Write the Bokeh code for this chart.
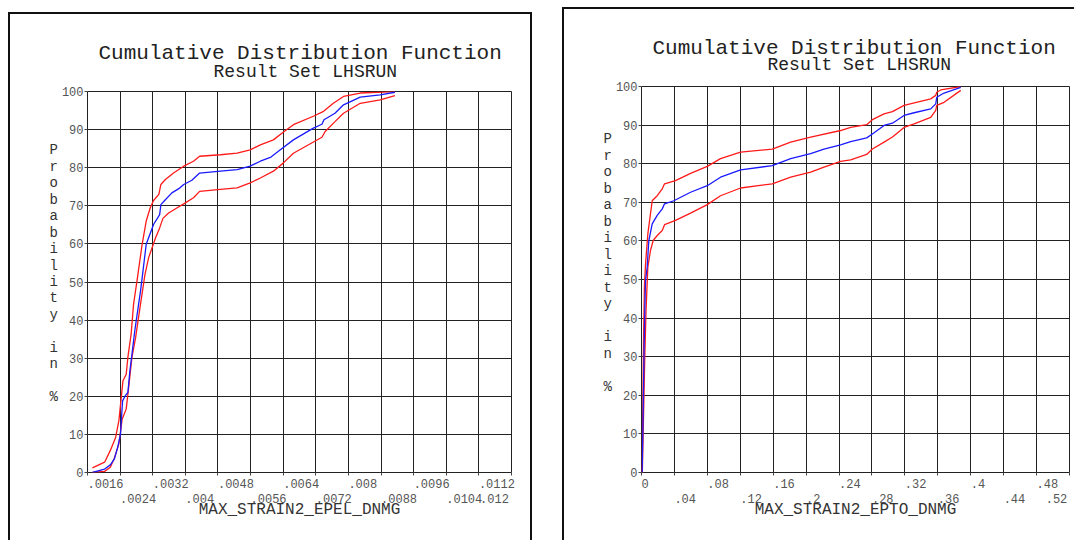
from bokeh.plotting import figure
from bokeh.layouts import row
from bokeh.models import FixedTicker, LinearAxis, Range1d, Title, AllLabels
from bokeh.embed import file_html
from bokeh.resources import INLINE

# ---------------- data ----------------
left_tick_values = [0.0016, 0.0024, 0.0032, 0.0040, 0.0048, 0.0056, 0.0064,
                    0.0072, 0.0080, 0.0088, 0.0096, 0.0104, 0.0112, 0.0120]
left_tick_labels = [".0016", ".0024", ".0032", ".004", ".0048", ".0056", ".0064",
                    ".0072", ".008", ".0088", ".0096", ".0104", ".0112", ".012"]
right_tick_values = [0.0, 0.04, 0.08, 0.12, 0.16, 0.20, 0.24,
                     0.28, 0.32, 0.36, 0.40, 0.44, 0.48, 0.52]
right_tick_labels = ["0", ".04", ".08", ".12", ".16", ".2", ".24",
                     ".28", ".32", ".36", ".4", ".44", ".48", ".52"]
y_tick_values = [0, 10, 20, 30, 40, 50, 60, 70, 80, 90, 100]

# Left chart: MAX_STRAIN2_EPEL_DNMG
left_blue_x = [0.00172, 0.00202, 0.00216, 0.00226, 0.00234, 0.00241, 0.00246, 0.00253, 0.00259,
               0.00264, 0.00269, 0.00276, 0.00283, 0.00290, 0.00294, 0.00304, 0.00322, 0.00337,
               0.00340, 0.00351, 0.00367, 0.00384, 0.00396, 0.00416, 0.00435, 0.00486, 0.00527,
               0.00559, 0.00584, 0.00610, 0.00633, 0.00665, 0.00714, 0.00735, 0.00740, 0.00767,
               0.00788, 0.00829, 0.00878, 0.00914]
left_blue_p = [0, 0.9, 2, 3.6, 6.6, 10.1, 18.8, 20.2, 21,
               26.7, 31, 37.2, 42.4, 47.6, 51, 59.9, 65.1, 67.7,
               70.3, 71.6, 73.4, 74.5, 75.6, 76.7, 78.6, 79.1, 79.5,
               80.4, 81.7, 82.8, 84.7, 87.3, 90.4, 91.4, 92.6, 94.3,
               96.5, 98.5, 99.1, 99.8]
left_upper_x = [0.00172, 0.00202, 0.00216, 0.00229, 0.00237, 0.00247, 0.00255, 0.00259, 0.00267,
                0.00273, 0.00283, 0.00294, 0.00304, 0.00314, 0.00322, 0.00335, 0.00340, 0.00351,
                0.00371, 0.00396, 0.00420, 0.00435, 0.00486, 0.00527, 0.00559, 0.00584, 0.00616,
                0.00640, 0.00665, 0.00714, 0.00739, 0.00763, 0.00788, 0.00829, 0.00914]
left_upper_p = [1.2, 2.7, 5.8, 9.2, 13.6, 24.1, 25.8, 30.2, 36.3,
                44.2, 51.5, 59.9, 66, 69.5, 71.4, 73, 75.6, 76.9,
                78.6, 80.4, 81.7, 83, 83.4, 83.8, 84.7, 86, 87.3,
                89.3, 91.3, 93.5, 94.8, 96.9, 98.7, 99.6, 100]
left_lower_x = [0.00172, 0.00202, 0.00216, 0.00226, 0.00237, 0.00245, 0.00255, 0.00261, 0.00269,
                0.00278, 0.00290, 0.00301, 0.00310, 0.00327, 0.00337, 0.00345, 0.00359, 0.00380,
                0.00396, 0.00420, 0.00435, 0.00486, 0.00527, 0.00559, 0.00584, 0.00616, 0.00640,
                0.00665, 0.00735, 0.00743, 0.00767, 0.00788, 0.00829, 0.00878, 0.00914]
left_lower_p = [0, 0.3, 1.4, 3.8, 7.5, 14, 16.7, 22.3, 30.2,
                35.4, 44.2, 52, 56.4, 61.6, 64.2, 66.7, 68.1, 69.5,
                70.5, 72.1, 73.8, 74.3, 74.7, 76, 77.3, 79.1, 81.2,
                83.8, 88, 89.5, 92.1, 94.3, 96.9, 97.8, 98.9]

# Right chart: MAX_STRAIN2_EPTO_DNMG
right_blue_x = [0.0008, 0.0020, 0.0030, 0.0040, 0.0049, 0.0069, 0.0089, 0.0130, 0.0191, 0.0252,
                0.0280, 0.0393, 0.0596, 0.0799, 0.0960, 0.1204, 0.1589, 0.1812, 0.2055, 0.2217,
                0.2419, 0.2541, 0.2736, 0.2805, 0.2947, 0.3049, 0.3190, 0.3312, 0.3514, 0.3575,
                0.3587, 0.3676, 0.3879]
right_blue_p = [0, 15, 30, 42, 49.7, 53.2, 60.1, 64.4, 66.6, 68.3,
                69.6, 70.4, 72.6, 74.3, 76.5, 78.4, 79.5, 81.3, 82.6, 83.8,
                84.9, 85.7, 86.7, 87.7, 89.9, 90.5, 92.5, 93.2, 94.2, 95.5,
                97.2, 98.3, 99.8]
right_upper_x = [0.0006, 0.0015, 0.0025, 0.0035, 0.0049, 0.0077, 0.0130, 0.0191, 0.0252, 0.0280,
                 0.0413, 0.0596, 0.0799, 0.0960, 0.1204, 0.1589, 0.1812, 0.2055, 0.2419, 0.2541,
                 0.2736, 0.2805, 0.2947, 0.3049, 0.3190, 0.3514, 0.3575, 0.3587, 0.3636, 0.3879]
right_upper_p = [0, 15, 35, 48, 54, 61.8, 70.4, 71.7, 73.5, 74.8,
                 75.6, 77.5, 79.3, 81.3, 83, 83.8, 85.6, 86.9, 88.6, 89.4,
                 90.1, 91.4, 92.9, 93.5, 95.1, 96.8, 97.7, 98.5, 99.1, 100]
right_lower_x = [0.0010, 0.0025, 0.0040, 0.0055, 0.0077, 0.0109, 0.0142, 0.0191, 0.0252, 0.0280,
                 0.0413, 0.0596, 0.0799, 0.0960, 0.1204, 0.1589, 0.1812, 0.2055, 0.2217, 0.2419,
                 0.2541, 0.2736, 0.2805, 0.2947, 0.3049, 0.3190, 0.3312, 0.3514, 0.3575, 0.3587,
                 0.3676, 0.3879]
right_lower_p = [0, 15, 30, 42, 53.2, 57.5, 60.1, 61.4, 62.7, 64.2,
                 65.3, 67.2, 69.4, 71.7, 73.7, 74.8, 76.5, 77.8, 79.1, 80.6,
                 81, 82.4, 83.8, 85.6, 86.9, 89.4, 90.3, 92, 93.8, 95.1,
                 95.9, 99]

TITLE = "Cumulative Distribution Function"
SUBTITLE = "Result Set LHSRUN"
YTEXT = "\n".join(list("Probability in %"))

FONT = "Liberation Mono"
NB = "\u00a0"


def make_panel(width, height, mbl, mbr, mbt, mbb, ticks, tick_labels, xlabel,
               curves, styles, margin, sub_offset, title_offset,
               sub_standoff, title_standoff, last_pad, ytext_tail):
    p = figure(width=width, height=height, output_backend="svg", toolbar_location=None,
               x_range=Range1d(ticks[0], ticks[-1]), y_range=Range1d(0, 100),
               min_border_left=mbl, min_border_right=mbr,
               min_border_top=mbt, min_border_bottom=mbb, title=None,
               styles=styles, margin=margin)
    p.background_fill_color = "white"
    p.border_fill_color = "white"
    p.outline_line_color = "#222222"
    p.outline_line_width = 1

    # grid
    p.xgrid.ticker = FixedTicker(ticks=ticks)
    p.ygrid.ticker = FixedTicker(ticks=y_tick_values)
    for g in (p.xgrid, p.ygrid):
        g.grid_line_color = "#222222"
        g.grid_line_alpha = 1.0
        g.grid_line_width = 1

    # x axis, first row of labels (even ticks), labels start at their tick
    xa = p.xaxis[0]
    xa.ticker = FixedTicker(ticks=ticks)
    xa.major_label_overrides = {
        t: (NB * len(lab) + lab if i % 2 == 0 else "")
        for i, (t, lab) in enumerate(zip(ticks, tick_labels))}
    xa.major_label_policy = AllLabels()
    xa.major_label_text_font = FONT
    xa.major_label_text_font_size = "12px"
    xa.major_label_text_color = "#555555"
    xa.major_label_standoff = 2
    xa.major_tick_out = 3
    xa.major_tick_in = 0
    xa.minor_tick_line_color = None
    xa.axis_line_color = None
    xa.major_tick_line_color = "#444444"

    # second row of labels (odd ticks); the last one ends at its tick
    odd = [i for i in range(len(ticks)) if i % 2 == 1]
    xb = LinearAxis(ticker=FixedTicker(ticks=[ticks[i] for i in odd]))
    over = {}
    for i in odd:
        lab = tick_labels[i]
        over[ticks[i]] = (lab + NB * last_pad) if i == len(ticks) - 1 else (NB * len(lab) + lab)
    xb.major_label_overrides = over
    xb.major_label_policy = AllLabels()
    xb.major_label_text_font = FONT
    xb.major_label_text_font_size = "12px"
    xb.major_label_text_color = "#555555"
    xb.major_label_standoff = -2
    xb.major_tick_out = 0
    xb.major_tick_in = 0
    xb.major_tick_line_color = None
    xb.minor_tick_line_color = None
    xb.axis_line_color = None
    xb.axis_label = xlabel
    xb.axis_label_text_font = FONT
    xb.axis_label_text_font_size = "16px"
    xb.axis_label_text_font_style = "normal"
    xb.axis_label_text_color = "#333333"
    xb.axis_label_standoff = -9
    p.add_layout(xb, "below")

    # y axis
    ya = p.yaxis[0]
    ya.ticker = FixedTicker(ticks=y_tick_values)
    ya.major_label_text_font = FONT
    ya.major_label_text_font_size = "12px"
    ya.major_label_text_color = "#555555"
    ya.major_label_standoff = 1
    ya.major_tick_out = 3
    ya.major_tick_in = 0
    ya.minor_tick_line_color = None
    ya.axis_line_color = None
    ya.major_tick_line_color = "#444444"
    ya.axis_label = YTEXT + "\n" * ytext_tail
    ya.axis_label_orientation = "horizontal"
    ya.axis_label_text_font = FONT
    ya.axis_label_text_font_size = "14px"
    ya.axis_label_text_font_style = "normal"
    ya.axis_label_text_line_height = 1.03
    ya.axis_label_text_color = "#333333"
    ya.axis_label_standoff = 1

    # titles (subtitle nearest the frame)
    p.add_layout(Title(text=SUBTITLE, align="left", text_font=FONT, text_font_size="18px",
                       text_font_style="normal", text_color="#222222", standoff=sub_standoff,
                       offset=sub_offset), "above")
    p.add_layout(Title(text=TITLE, align="left", text_font=FONT, text_font_size="21px",
                       text_font_style="normal", text_color="#222222", standoff=title_standoff,
                       offset=title_offset), "above")

    # curves
    (bx, by), (ux, uy), (lx, ly) = curves
    p.line(ux, uy, line_color="#ff1a1a", line_width=1.3)
    p.line(lx, ly, line_color="#ff1a1a", line_width=1.3)
    p.line(bx, by, line_color="#1a1aff", line_width=1.3)
    return p


BORDER = "2px solid #111111"
p1 = make_panel(520, 526, 77, 23, 76, 70, left_tick_values, left_tick_labels,
                "MAX_STRAIN2_EPEL_DNMG",
                [(left_blue_x, left_blue_p), (left_upper_x, left_upper_p),
                 (left_lower_x, left_lower_p)],
                {"border-left": BORDER, "border-top": BORDER, "border-right": BORDER,
                 "box-sizing": "content-box"},
                (12, 0, 0, 8), 126, 11, 20, -31, 3, 1)
p2 = make_panel(510, 531, 77, 7, 77, 70, right_tick_values, right_tick_labels,
                "MAX_STRAIN2_EPTO_DNMG",
                [(right_blue_x, right_blue_p), (right_upper_x, right_upper_p),
                 (right_lower_x, right_lower_p)],
                {"border-left": BORDER, "border-top": BORDER, "box-sizing": "content-box"},
                (7, 0, 0, 30), 126, 11, 24, -38, 1, 2)

layout = row(p1, p2)
open("out.html", "w").write(file_html(layout, INLINE))
